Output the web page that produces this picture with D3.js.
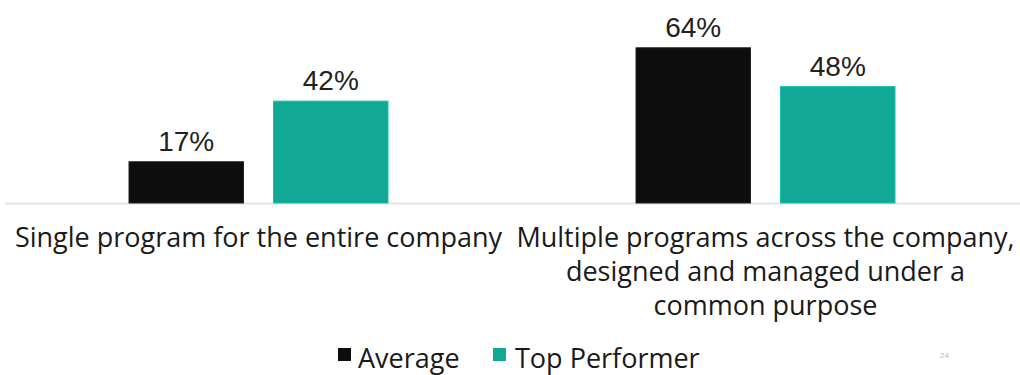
<!DOCTYPE html>
<html>
<head>
<meta charset="utf-8">
<script src="https://cdn.jsdelivr.net/npm/d3@7"></script>
<style>
  html, body { margin: 0; padding: 0; background: #ffffff; }
  svg { display: block; }
</style>
</head>
<body>
<div id="chart"></div>
<script>
// Program structure by respondent group
const categories = [
  ["Single program for the entire company"],
  ["Multiple programs across the company,", "designed and managed under a", "common purpose"]
];
const categoryKeys = ["single", "multiple"];
const seriesNames = ["Average", "Top Performer"];
const averageValues = [0.17, 0.64];
const topPerformerValues = [0.42, 0.48];
const seriesColors = ["#0d0d0d", "#11a895"];
const pageNumber = "24";

const width = 1020, height = 375;
const baseline = 203;

const svg = d3.select("#chart").append("svg")
  .attr("width", width)
  .attr("height", height);

const x0 = d3.scaleBand()
  .domain(categoryKeys)
  .range([5, 1019])
  .padding(0);

const x1 = d3.scaleBand()
  .domain(seriesNames)
  .range([0, x0.bandwidth()])
  .paddingInner(0.208)
  .paddingOuter(0.858);

const y = d3.scaleLinear()
  .domain([0, 0.8])
  .range([baseline, baseline - 0.8 * 242.5]);

const rows = categoryKeys.map((k, i) => ({
  key: k,
  values: [
    { series: seriesNames[0], value: averageValues[i], color: seriesColors[0] },
    { series: seriesNames[1], value: topPerformerValues[i], color: seriesColors[1] }
  ]
}));

// baseline rule
svg.append("line")
  .attr("x1", 5).attr("x2", width)
  .attr("y1", baseline + 0.5).attr("y2", baseline + 0.5)
  .attr("stroke", "#e4e4e4")
  .attr("stroke-width", 2);

const groups = svg.selectAll("g.group")
  .data(rows)
  .join("g")
  .attr("class", "group")
  .attr("transform", d => `translate(${x0(d.key)},0)`);

groups.selectAll("rect")
  .data(d => d.values)
  .join("rect")
  .attr("x", d => x1(d.series))
  .attr("y", d => y(d.value))
  .attr("width", x1.bandwidth())
  .attr("height", d => y(0) - y(d.value))
  .attr("fill", d => d.color)
  .attr("stroke", d => d3.color(d.color).brighter(d.series === "Average" ? 2.5 : 0.4))
  .attr("stroke-width", 1);

const fmt = d3.format(".0%");
groups.selectAll("text.value")
  .data(d => d.values)
  .join("text")
  .attr("class", "value")
  .attr("x", d => x1(d.series) + x1.bandwidth() / 2)
  .attr("y", d => y(d.value) - 11)
  .attr("text-anchor", "middle")
  .attr("font-family", "'Liberation Sans', Arial, sans-serif")
  .attr("font-size", 28)
  .attr("fill", "#222222")
  .text(d => fmt(d.value));

// category labels under the axis
const catText = svg.selectAll("text.cat")
  .data(categoryKeys)
  .join("text")
  .attr("class", "cat")
  .attr("x", d => x0(d) + x0.bandwidth() / 2)
  .attr("y", 247)
  .attr("text-anchor", "middle")
  .attr("font-family", "'Open Sans', sans-serif")
  .attr("font-size", 27)
  .attr("fill", "#1a1a1a");

catText.selectAll("tspan")
  .data((d, i) => categories[i])
  .join("tspan")
  .attr("x", function () { return d3.select(this.parentNode).attr("x"); })
  .attr("dy", (d, i) => i === 0 ? 0 : 34)
  .text(d => d);

// legend
const legendSquareX = [338, 493];
const legendTextX = [358, 515];
seriesNames.forEach((name, i) => {
  svg.append("rect")
    .attr("x", legendSquareX[i]).attr("y", 348)
    .attr("width", 13).attr("height", 13)
    .attr("fill", seriesColors[i]);
  svg.append("text")
    .attr("x", legendTextX[i]).attr("y", 368)
    .attr("font-family", "'Open Sans', sans-serif")
    .attr("font-size", 27)
    .attr("fill", "#1a1a1a")
    .text(name);
});

// page number
svg.append("text")
  .attr("x", 940).attr("y", 358)
  .attr("font-family", "'Liberation Sans', Arial, sans-serif")
  .attr("font-size", 8)
  .attr("fill", "#b8b8b8")
  .text(pageNumber);
</script>
</body>
</html>
